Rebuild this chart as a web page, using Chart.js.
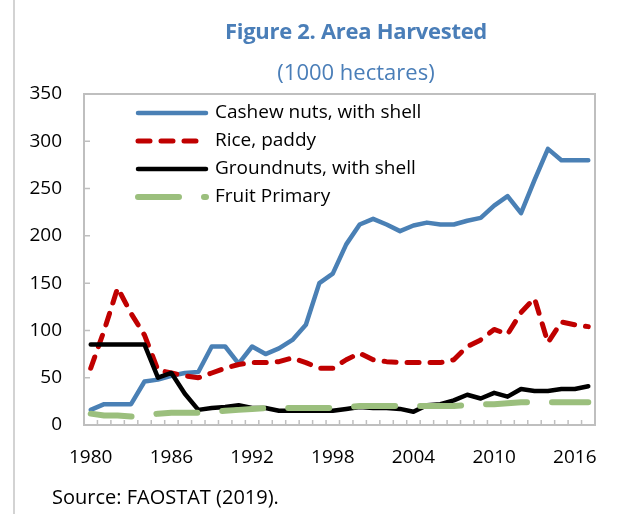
<!DOCTYPE html>
<html>
<head>
<meta charset="utf-8">
<script src="https://cdn.jsdelivr.net/npm/chart.js@4.4.1/dist/chart.umd.min.js"></script>
<style>
body { margin: 0; background: #fff; }
#wrap { position: relative; width: 626px; height: 514px; overflow: hidden; font-family: "Open Sans", sans-serif; }
#edge { position: absolute; left: 13px; top: 0; width: 2px; height: 514px; background: #d3d3d3; }
.head { position: absolute; left: 86px; width: 540px; text-align: center; color: #4a7eb8; white-space: nowrap; }
#t1 { top: 15px; font-size: 22px; font-weight: bold; letter-spacing: -0.3px; }
#t2 { top: 56px; font-size: 22px; }
#src { position: absolute; left: 52px; top: 483px; font-size: 20px; color: #000; }
#box { position: absolute; left: 0; top: 0; width: 626px; height: 514px; }
</style>
</head>
<body>
<div id="wrap">
  <div id="edge"></div>
  <div id="box"><canvas id="areachart"></canvas></div>
  <div class="head" id="t1">Figure 2. Area Harvested</div>
  <div class="head" id="t2">(1000 hectares)</div>
  <div id="src">Source: FAOSTAT (2019).</div>
</div>
<script>
// years on the x axis, one point per year
var years = [1980, 1981, 1982, 1983, 1984, 1985, 1986, 1987, 1988, 1989,
             1990, 1991, 1992, 1993, 1994, 1995, 1996, 1997, 1998, 1999,
             2000, 2001, 2002, 2003, 2004, 2005, 2006, 2007, 2008, 2009,
             2010, 2011, 2012, 2013, 2014, 2015, 2016, 2017];

// 1000 hectares
var cashew = [16, 22, 22, 22, 46, 48, 52, 55, 56, 83,
              83, 65, 83, 75, 81, 90, 106, 150, 160, 191,
              212, 218, 212, 205, 211, 214, 212, 212, 216, 219,
              232, 242, 224, 259, 292, 280, 280, 280];
var rice = [60, 100, 145, 118, 95, 58, 55, 52, 50, 55,
            60, 64, 66, 66, 67, 71, 66, 60, 60, 69,
            76, 69, 67, 66, 66, 66, 66, 69, 83, 90,
            101, 96, 119, 134, 87, 109, 106, 104];
var groundnuts = [85, 85, 85, 85, 85, 50, 55, 33, 16, 18,
                  19, 21, 18, 18, 15, 15, 15, 15, 15, 17,
                  19, 18, 18, 17, 14, 21, 22, 26, 32, 28,
                  34, 30, 38, 36, 36, 38, 38, 41];
var fruit = [12, 10, 10, 9, 10, 12, 13, 13, 13, 14,
             15, 16, 17, 18, 18, 18, 18, 18, 18, 19,
             20, 20, 20, 20, 20, 20, 20, 20, 21, 22,
             22, 23, 24, 24, 24, 24, 24, 24];

var seriesNames = ['Cashew nuts, with shell', 'Rice, paddy', 'Groundnuts, with shell', 'Fruit Primary'];
var yTicks = [0, 50, 100, 150, 200, 250, 300, 350];
var xLabelYears = [1980, 1986, 1992, 1998, 2004, 2010, 2016];

var FONT = '"Open Sans", sans-serif';
var FRAME = '#bfbfbf';

// plot border and the small inward tick marks
var framePlugin = {
    id: 'frame',
    afterDatasetsDraw: function(chart) {
        var ctx = chart.ctx;
        var a = chart.chartArea;
        var xs = chart.scales.x;
        var ys = chart.scales.y;
        ctx.save();
        ctx.strokeStyle = FRAME;
        ctx.lineWidth = 2;
        ctx.strokeRect(a.left, a.top, a.right - a.left, a.bottom - a.top);
        ctx.lineWidth = 1.5;
        var half = (xs.getPixelForValue(1) - xs.getPixelForValue(0)) / 2;
        ctx.beginPath();
        for (var i = 0; i <= years.length; i++) {
            var px = xs.getPixelForValue(i) - half;
            ctx.moveTo(px, a.bottom);
            ctx.lineTo(px, a.bottom - 5);
        }
        yTicks.forEach(function(v) {
            var py = ys.getPixelForValue(v);
            ctx.moveTo(a.left, py);
            ctx.lineTo(a.left + 6, py);
        });
        ctx.stroke();
        ctx.restore();
    }
};

// legend drawn inside the plot, top left, in series order
var legendPlugin = {
    id: 'insideLegend',
    afterDraw: function(chart) {
        var ctx = chart.ctx;
        var rows = [113, 141, 169, 197];
        ctx.save();
        seriesNames.forEach(function(name, i) {
            var ds = chart.data.datasets.filter(function(d) { return d.label === name; })[0];
            var y = rows[i];
            ctx.strokeStyle = ds.borderColor;
            ctx.lineWidth = ds.borderWidth;
            ctx.lineCap = ds.borderCapStyle || 'butt';
            ctx.setLineDash(ds.borderDash || []);
            ctx.beginPath();
            ctx.moveTo(138, y);
            ctx.lineTo(206, y);
            ctx.stroke();
            ctx.setLineDash([]);
            ctx.fillStyle = '#000';
            ctx.font = '19px ' + FONT;
            ctx.textBaseline = 'middle';
            ctx.fillText(name, 215, y);
        });
        ctx.restore();
    }
};

function initAreaChart() {
    var canvas = document.getElementById('areachart');
    var sets = [{
        label: seriesNames[0],
        data: cashew,
        borderColor: '#4a80b5',
        borderWidth: 4.5
    }, {
        label: seriesNames[1],
        data: rice,
        borderColor: '#c00000',
        borderWidth: 5,
        borderDash: [12, 11]
    }, {
        label: seriesNames[2],
        data: groundnuts,
        borderColor: '#000000',
        borderWidth: 4.5
    }, {
        label: seriesNames[3],
        data: fruit,
        borderColor: '#9bbf7d',
        borderWidth: 6,
        borderDash: [41, 25]
    }];
    sets.forEach(function(d) {
        d.fill = false;
        d.pointRadius = 0;
        d.pointHoverRadius = 0;
        d.tension = 0;
        d.borderCapStyle = 'round';
        d.borderJoinStyle = 'round';
    });
    // later series sit on top, as in the original
    sets.reverse();

    new Chart(canvas.getContext('2d'), {
        type: 'line',
        data: { labels: years, datasets: sets },
        options: {
            responsive: true,
            maintainAspectRatio: false,
            animation: false,
            layout: { padding: { left: 0, right: 31, top: 94, bottom: 0 } },
            plugins: {
                legend: { display: false },
                title: { display: false },
                tooltip: { enabled: false }
            },
            scales: {
                x: {
                    type: 'category',
                    offset: true,
                    grid: { display: false, drawTicks: false },
                    border: { display: false },
                    afterFit: function(scale) { scale.height = 89; },
                    ticks: {
                        autoSkip: false,
                        maxRotation: 0,
                        padding: 21,
                        color: '#000',
                        font: { family: FONT, size: 19 },
                        callback: function(val, idx) {
                            var yr = years[idx];
                            return xLabelYears.indexOf(yr) >= 0 ? String(yr) : null;
                        }
                    }
                },
                y: {
                    min: 0,
                    max: 350,
                    grid: { display: false, drawTicks: false },
                    border: { display: false },
                    afterFit: function(scale) { scale.width = 84; },
                    ticks: {
                        stepSize: 50,
                        padding: 22,
                        color: '#000',
                        font: { family: FONT, size: 19 }
                    }
                }
            }
        },
        plugins: [framePlugin, legendPlugin]
    });
}

document.addEventListener('DOMContentLoaded', initAreaChart);
</script>
</body>
</html>
